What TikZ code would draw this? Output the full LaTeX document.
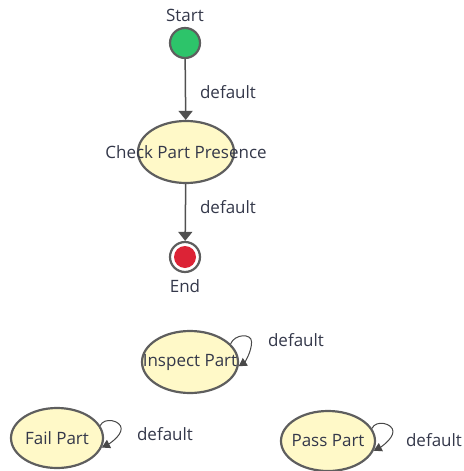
\documentclass[tikz,border=0pt]{standalone}
\usepackage{fontspec}
\setmainfont{Open Sans}
\usetikzlibrary{arrows.meta,shapes.geometric}
\definecolor{txt}{HTML}{34384A}
\definecolor{edge}{HTML}{505050}
\definecolor{bord}{HTML}{5E5E5E}
\definecolor{stfill}{HTML}{FFF9C8}
\definecolor{startg}{HTML}{2DC46A}
\definecolor{endr}{HTML}{DC2336}
\tikzset{
  lbl/.style={text=txt,font=\fontsize{17}{20}\selectfont,inner sep=0pt},
  state/.style={ellipse,draw=bord,line width=2.2pt,fill=stfill,inner sep=0pt,
    minimum width=96pt,minimum height=62pt,text=txt,font=\fontsize{17}{20}\selectfont},
  trans/.style={draw=edge,line width=1.5pt,-{Triangle[width=14pt,length=9pt]}},
  selfloop/.style={draw=edge!90!black,line width=1pt,-{Triangle[width=9pt,length=8pt]}},
}
\newcommand{\zw}[1]{\makebox[0pt]{#1}}
\begin{document}
\begin{tikzpicture}[x=1pt,y=-1pt]
\useasboundingbox (0,0) rectangle (463,471);
% start
\node[lbl] (startlbl) at (185,15) {Start};
\node[circle,draw=bord,line width=2.2pt,fill=startg,minimum size=30pt,inner sep=0pt] (start) at (185,43) {};
% check
\node[state] (check) at (186,152) {\zw{Check Part Presence}};
% end
\node[circle,draw=bord,line width=2.2pt,fill=white,minimum size=30pt,inner sep=0pt] (end) at (185,257) {};
\node[circle,fill=endr,minimum size=22pt,inner sep=0pt] (endin) at (185,257) {};
\node[lbl] (endlbl) at (185,286) {End};
\draw[trans] (start) -- (check);
\draw[trans] (check) -- (end);
\node[lbl] (d1) at (228,92) {default};
\node[lbl] (d2) at (228,207) {default};
% isolated states
\node[state] (inspect) at (190,362) {\zw{Inspect Part}};
\node[state,minimum width=92pt,minimum height=60pt] (fail) at (57,438) {\zw{Fail Part}};
\node[state,minimum width=94pt,minimum height=60pt] (pass) at (328,441) {\zw{Pass Part}};
\draw[selfloop] (inspect.24) .. controls +(4,-10) and +(0,-9) .. ++(21,-2)
   .. controls +(0,10) and +(6,-4) .. (inspect.-5);
\draw[selfloop] (fail.16) .. controls +(4,-9) and +(0,-8) .. ++(21,3)
   .. controls +(0,8) and +(6,-3) .. (fail.-12);
\draw[selfloop] (pass.16) .. controls +(4,-9) and +(0,-8) .. ++(21,3)
   .. controls +(0,8) and +(6,-3) .. (pass.-12);
\node[lbl] (d3) at (296,340) {default};
\node[lbl] (d4) at (165,434) {default};
\node[lbl] (d5) at (434,440) {default};
\end{tikzpicture}
\end{document}
